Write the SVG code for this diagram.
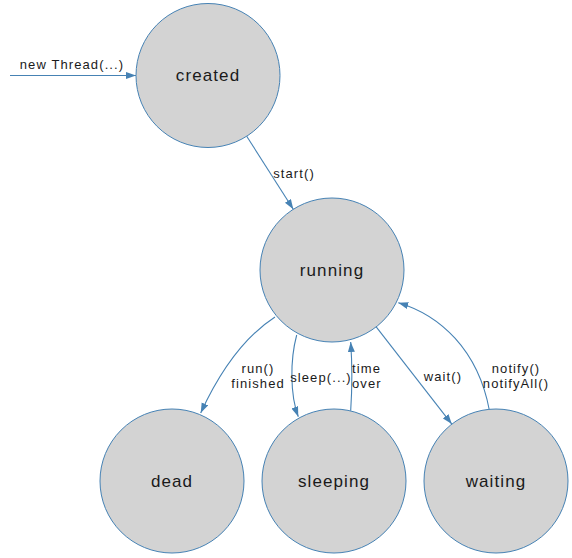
<svg xmlns="http://www.w3.org/2000/svg" width="572" height="558" viewBox="0 0 572 558">
  <defs>
    <marker id="arrow" markerUnits="userSpaceOnUse" markerWidth="11" markerHeight="8" refX="10" refY="3.5" orient="auto">
      <path d="M0,0 L10,3.5 L0,7 z" fill="#4682b4"/>
    </marker>
    <style>
      .node circle { fill: #d3d3d3; stroke: #4682b4; stroke-width: 1; }
      .node text { font-family: "Liberation Sans", Arial, sans-serif; font-size: 17px; letter-spacing: 1.1px; fill: #1a1a1a; text-anchor: middle; }
      .edge { fill: none; stroke: #4682b4; stroke-width: 1.1; marker-end: url(#arrow); }
      .lbl { font-family: "Liberation Sans", Arial, sans-serif; font-size: 13px; letter-spacing: 1.1px; fill: #1a1a1a; }
    </style>
  </defs>
  <rect width="572" height="558" fill="#ffffff"/>
  <g id="connectors">
    <path class="edge" d="M10,75.5 L136,75.5"/>
    <path class="edge" d="M246.7,136.2 L293.3,209.3"/>
    <path class="edge" d="M275,317 Q232,345 200.7,413"/>
    <path class="edge" d="M296.7,335 C290,360 290,395 298.3,416.7"/>
    <path class="edge" d="M350.7,410.7 Q353,376 350.7,342"/>
    <path class="edge" d="M376.2,326.9 L451.8,424.1"/>
    <path class="edge" d="M489.3,410 C478,350 440,315 398.3,302.7"/>
    <text class="lbl" x="72" y="69" text-anchor="middle">new Thread(...)</text>
    <text class="lbl" x="294" y="178" text-anchor="middle">start()</text>
    <text class="lbl" x="258" y="373" text-anchor="middle">run()</text>
    <text class="lbl" x="258" y="388" text-anchor="middle">finished</text>
    <text class="lbl" x="321" y="382" text-anchor="middle">sleep(...)</text>
    <text class="lbl" x="352" y="373">time</text>
    <text class="lbl" x="352" y="388">over</text>
    <text class="lbl" x="443" y="381" text-anchor="middle">wait()</text>
    <text class="lbl" x="516" y="373" text-anchor="middle">notify()</text>
    <text class="lbl" x="516" y="388" text-anchor="middle">notifyAll()</text>
  </g>
  <g id="created" class="node">
    <circle cx="208" cy="75.5" r="72"/>
    <text x="208" y="81">created</text>
  </g>
  <g id="running" class="node">
    <circle cx="332" cy="270" r="72"/>
    <text x="332" y="276">running</text>
  </g>
  <g id="dead" class="node">
    <circle cx="172" cy="481" r="72"/>
    <text x="172" y="487">dead</text>
  </g>
  <g id="sleeping" class="node">
    <circle cx="334" cy="481" r="72"/>
    <text x="334" y="487">sleeping</text>
  </g>
  <g id="waiting" class="node">
    <circle cx="496" cy="481" r="72"/>
    <text x="496" y="487">waiting</text>
  </g>
</svg>
